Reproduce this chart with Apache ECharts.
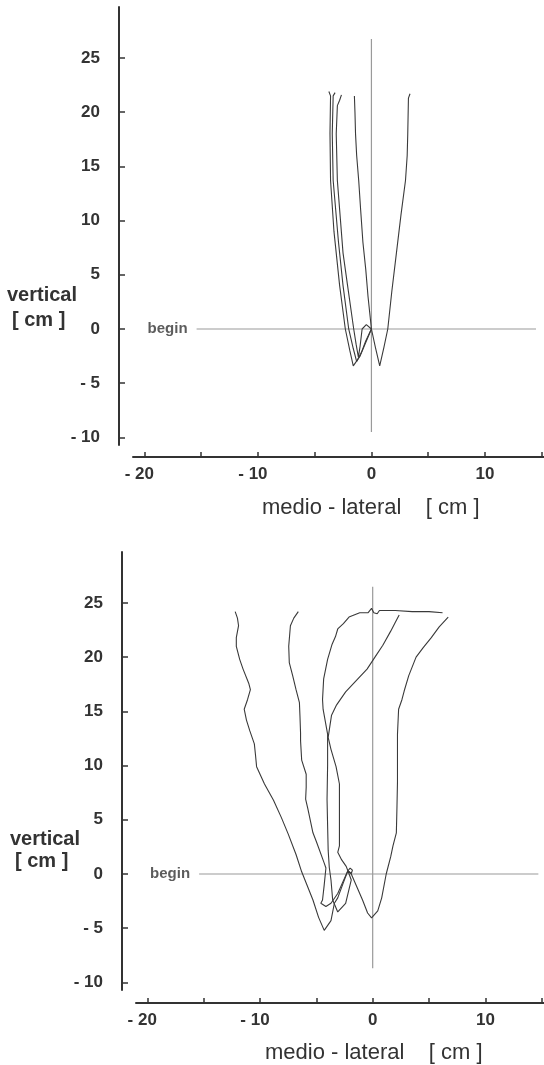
<!DOCTYPE html>
<html><head><meta charset="utf-8">
<script src="https://cdn.jsdelivr.net/npm/echarts@6/dist/echarts.min.js"></script>
<style>html,body{margin:0;padding:0;background:#fff}#c{width:544px;height:1065px}</style>
</head><body><div id="c"></div>
<script>
// ---- axis ticks / labels ----
const xTickValues = [-20, -15, -10, -5, 0, 5, 10, 15];
const xLabelValues = [-20, -10, 0, 10];
const yTickValues = [-10, -5, 0, 5, 10, 15, 20, 25];
const yAxisName = ['vertical', '[ cm ]'];
const xAxisName = 'medio - lateral    [ cm ]';
const beginText = 'begin';

// ---- reference lines (cm) ----
const refVertTop = [[0, 26.75], [0, -9.5]];
const refHorTop = [[-15.4, 0], [14.5, 0]];
const refVertBottom = [[0, 26.5], [0, -8.7]];
const refHorBottom = [[-15.4, 0], [14.7, 0]];

// ---- top panel traces [medio-lateral, vertical] (cm) ----
const topTrace1 = [[0,0],[-0.4,-1.0],[-1.0,-2.5],[-1.6,-3.4],[-1.9,-2.0],[-2.3,0],[-2.8,4],[-3.3,9],[-3.6,13.7],[-3.65,18],[-3.6,21.5],[-3.75,21.9]];
const topTrace2 = [[0,0],[-0.5,-1.1],[-0.9,-2.2],[-1.3,-3.0],[-1.6,-1.8],[-2.0,0],[-2.5,4],[-2.9,8],[-3.37,13.7],[-3.45,18],[-3.37,21.5],[-3.2,21.8]];
const topTrace3 = [[0,0],[-0.45,0.4],[-0.82,0],[-1.0,-1.6],[-1.15,-2.6],[-1.35,-1.4],[-1.56,0],[-2.1,4],[-2.5,7],[-3.0,13.7],[-3.1,18],[-3.0,20.6],[-2.8,21.1],[-2.64,21.6]];
const topTrace4 = [[0,0],[-0.15,1.5],[-0.3,3],[-0.5,5.5],[-0.75,8],[-0.95,11],[-1.12,13.7],[-1.3,16],[-1.4,18],[-1.45,20],[-1.5,21.5]];
const topTrace5 = [[0,0],[0.35,-1.7],[0.73,-3.4],[1.1,-1.7],[1.44,0],[1.8,3.5],[2.2,7],[2.6,10.5],[3.0,13.7],[3.15,16],[3.2,18],[3.26,21.3],[3.4,21.7]];

// ---- bottom panel traces [medio-lateral, vertical] (cm) ----
const botTrace1 = [[-2.2,0.3],[-2.6,-0.8],[-3.1,-2.2],[-3.4,-2.7],[-3.7,-4.3],[-4.3,-5.2],[-4.8,-4.0],[-5.3,-2.4],[-6.3,0.2],[-6.8,1.8],[-7.5,3.7],[-8.1,5.2],[-8.8,6.8],[-9.6,8.3],[-10.3,9.9],[-10.4,11.0],[-10.5,12.0],[-10.9,13.2],[-11.2,14.2],[-11.4,15.2],[-11.1,16.1],[-10.85,17.0],[-11.0,17.6],[-11.5,18.9],[-11.8,19.8],[-12.1,21.0],[-12.1,21.8],[-11.9,22.9],[-12.0,23.6],[-12.2,24.2]];
const botTrace2 = [[-2.2,0.3],[-2.4,-0.15],[-3.1,-1.8],[-3.7,-2.7],[-4.15,-3.0],[-4.6,-2.7],[-4.45,-2.4],[-4.3,-1.0],[-4.15,0.55],[-4.3,1.0],[-5.0,3.0],[-5.3,3.8],[-5.75,6.0],[-5.95,6.9],[-5.9,8.0],[-5.9,9.2],[-6.3,10.5],[-6.4,12.3],[-6.4,13.0],[-6.45,14.5],[-6.5,15.8],[-6.8,17.0],[-7.1,18.3],[-7.4,19.5],[-7.45,21.0],[-7.3,22.9],[-7.0,23.6],[-6.6,24.2]];
const botTrace3 = [[-2.2,0.3],[-1.9,-0.55],[-2.4,-2.7],[-3.1,-3.5],[-3.55,-2.4],[-3.7,-0.55],[-3.85,0.6],[-3.95,2.2],[-4.0,4.5],[-4.05,6.9],[-4.0,10.0],[-4.0,12.9],[-4.4,15.2],[-4.45,16.1],[-4.35,18.0],[-4.0,19.8],[-3.6,21.2],[-3.3,21.9],[-3.1,22.6],[-2.6,23.1],[-2.1,23.7],[-1.15,24.1],[-0.4,24.1],[-0.1,24.5],[0.1,24.1],[0.4,24.0],[0.6,24.3],[2.0,24.3],[3.5,24.2],[5.0,24.2],[6.2,24.1]];
const botTrace4 = [[-2.2,0.3],[-2.0,0.55],[-1.8,0.35],[-1.9,0.05],[-2.2,0.3],[-2.35,0.7],[-2.75,1.3],[-3.1,2.0],[-2.95,2.6],[-2.95,5.0],[-2.95,8.3],[-3.25,9.9],[-3.7,11.5],[-3.95,12.6],[-3.65,14.65],[-3.2,15.6],[-2.4,16.8],[-1.4,17.9],[-0.5,18.9],[0.2,20.0],[0.9,21.1],[1.6,22.4],[2.0,23.2],[2.35,23.9]];
const botTrace5 = [[-2.2,0.3],[-1.9,0.0],[-1.4,-1.2],[-0.9,-2.4],[-0.45,-3.6],[-0.1,-4.05],[0.45,-3.4],[0.8,-2.2],[1.2,0.0],[1.6,1.6],[1.8,2.6],[2.1,3.8],[2.15,6.0],[2.2,8.5],[2.2,11.0],[2.2,12.9],[2.3,15.2],[2.6,16.1],[2.8,16.9],[3.2,18.3],[3.85,20.0],[4.5,20.9],[5.2,21.8],[5.9,22.8],[6.7,23.7]];

const topTraces = [topTrace1, topTrace2, topTrace3, topTrace4, topTrace5];
const bottomTraces = [botTrace1, botTrace2, botTrace3, botTrace4, botTrace5];

const FONT = '"Liberation Sans", Arial, Helvetica, sans-serif';
const INK = '#333';
const REF = '#9a9a9a';

function xAxisFor(gi, offset) {
  return {
    type: 'value', gridIndex: gi, min: -21, max: 15.2, offset: offset,
    axisLine: { show: true, onZero: false, lineStyle: { color: INK, width: 2 } },
    axisTick: { show: true, inside: true, length: 5, customValues: xTickValues, lineStyle: { color: INK, width: 1.5 } },
    axisLabel: {
      show: true, customValues: xLabelValues, margin: 9,
      color: INK, fontFamily: FONT, fontWeight: 'bold', fontSize: 17,
      formatter: v => v < 0 ? '- ' + (-v) + '{p| }' : String(v),
      rich: { p: { width: 10, fontSize: 17 } }
    },
    splitLine: { show: false }
  };
}
function yAxisFor(gi, offset) {
  return {
    type: 'value', gridIndex: gi, min: -10.7, max: 29.7, offset: offset,
    axisLine: { show: true, onZero: false, lineStyle: { color: INK, width: 2 } },
    axisTick: { show: true, inside: true, length: 6, customValues: yTickValues, lineStyle: { color: INK, width: 1.5 } },
    axisLabel: {
      show: true, customValues: yTickValues, margin: 19,
      color: INK, fontFamily: FONT, fontWeight: 'bold', fontSize: 17,
      formatter: v => v < 0 ? '- ' + (-v) : String(v)
    },
    splitLine: { show: false }
  };
}

const series = [];
function refSeries(gi, vert, hor) {
  series.push({ type: 'line', xAxisIndex: gi, yAxisIndex: gi, data: vert, symbol: 'none', lineStyle: { color: REF, width: 1.2 }, silent: true, z: 1 });
  series.push({ type: 'line', xAxisIndex: gi, yAxisIndex: gi, data: hor, symbol: 'none', lineStyle: { color: REF, width: 1.2 }, silent: true, z: 1 });
  series.push({
    type: 'scatter', xAxisIndex: gi, yAxisIndex: gi, data: [hor[0]], symbolSize: 0.01, silent: true,
    label: { show: true, position: 'left', distance: 9, formatter: beginText, color: INK, fontFamily: FONT, fontWeight: 'bold', fontSize: 15 }
  });
}
refSeries(0, refVertTop, refHorTop);
refSeries(1, refVertBottom, refHorBottom);
topTraces.forEach(t => series.push({ type: 'line', xAxisIndex: 0, yAxisIndex: 0, data: t, symbol: 'none', lineStyle: { color: '#3a3a3a', width: 1.1 }, z: 3 }));
bottomTraces.forEach(t => series.push({ type: 'line', xAxisIndex: 1, yAxisIndex: 1, data: t, symbol: 'none', lineStyle: { color: '#3a3a3a', width: 1.1 }, z: 3 }));

function txt(x, y, text, font) {
  return { type: 'text', x: x, y: y, silent: true, style: { text: text, font: font, fill: INK, align: 'left', verticalAlign: 'middle' } };
}
const nameFontY = 'bold 20px ' + FONT;
const nameFontX = '22px ' + FONT;

const chart = echarts.init(document.getElementById('c'), null, { renderer: 'canvas' });
chart.setOption({
  backgroundColor: '#fff',
  animation: false,
  grid: [
    { left: 133, top: 7, width: 411, height: 438 },
    { left: 136, top: 552, width: 409, height: 438 }
  ],
  xAxis: [xAxisFor(0, 12), xAxisFor(1, 13)],
  yAxis: [yAxisFor(0, 14), yAxisFor(1, 14)],
  series: series,
  graphic: [
    txt(7, 295, yAxisName[0], nameFontY),
    txt(12, 320, yAxisName[1], nameFontY),
    txt(262, 508, xAxisName, nameFontX),
    txt(10, 839, yAxisName[0], nameFontY),
    txt(15, 861, yAxisName[1], nameFontY),
    txt(265, 1053, xAxisName, nameFontX)
  ]
});
</script></body></html>
